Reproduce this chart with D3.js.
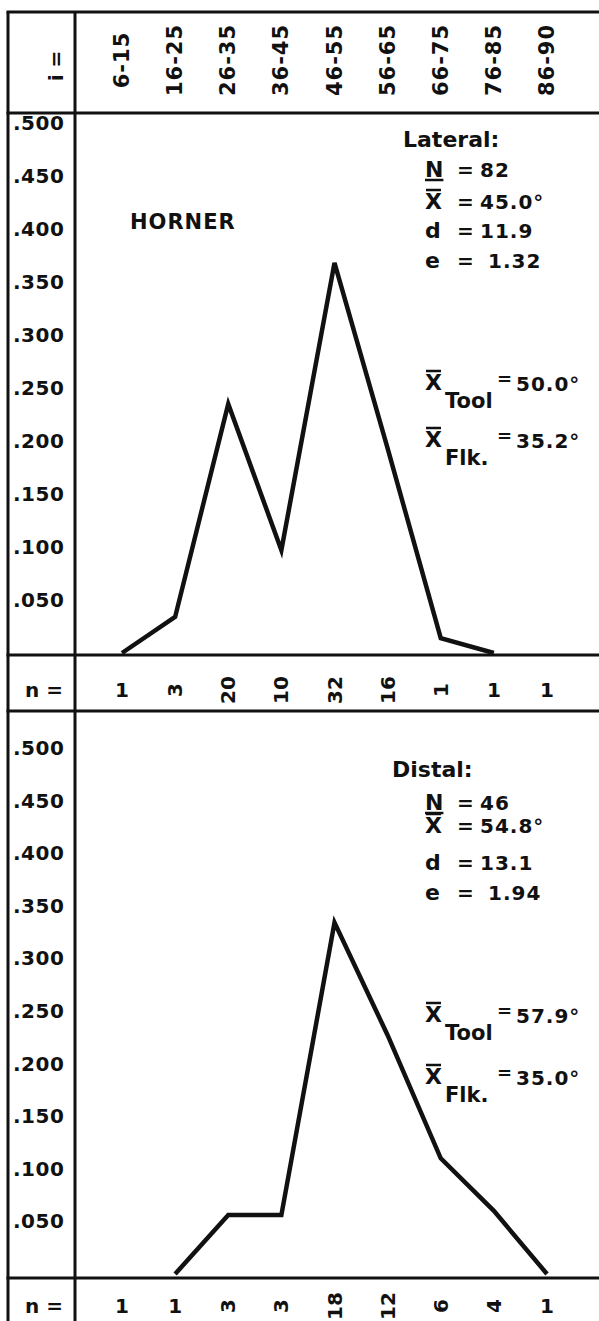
<!DOCTYPE html>
<html>
<head>
<meta charset="utf-8">
<script src="https://cdn.jsdelivr.net/npm/d3@7"></script>
<style>
  body { margin: 0; background: #fff; }
  text { font-family: "DejaVu Sans", sans-serif; font-weight: bold; fill: #111; white-space: pre; }
</style>
</head>
<body>
<script>
// Class intervals (degrees) along the top
const classes = ["6-15", "16-25", "26-35", "36-45", "46-55", "56-65", "66-75", "76-85", "86-90"];

// Relative frequency ticks
const yTicks = [0.05, 0.1, 0.15, 0.2, 0.25, 0.3, 0.35, 0.4, 0.45, 0.5];
const yTickLabels = [".050", ".100", ".150", ".200", ".250", ".300", ".350", ".400", ".450", ".500"];

// Lateral edge angles
const lateralN = ["1", "3", "20", "10", "32", "16", "1", "1", "1"];
const lateralFreq = [0, 0.034, 0.235, 0.097, 0.368, 0.193, 0.014, 0, null];
const lateralStatLabels = ["N", "X", "d", "e"];
const lateralStatValues = ["82", "45.0°", "11.9", " 1.32"];
const lateralMeanLabels = ["Tool", "Flk."];
const lateralMeanValues = ["50.0°", "35.2°"];

// Distal edge angles
const distalN = ["1", "1", "3", "3", "18", "12", "6", "4", "1"];
const distalFreq = [null, 0, 0.056, 0.056, 0.334, 0.227, 0.110, 0.060, 0];
const distalStatLabels = ["N", "X", "d", "e"];
const distalStatValues = ["46", "54.8°", "13.1", " 1.94"];
const distalMeanLabels = ["Tool", "Flk."];
const distalMeanValues = ["57.9°", "35.0°"];

let width = 599,
    height = 1321;

let frame = { left: 8, divider: 75, top: 12, header: 113 };

let svg = d3.select("body")
    .append("svg")
    .attr("width", width)
    .attr("height", height);

let xScale = d3.scalePoint()
    .domain(classes)
    .range([122, 547]);

// Frame lines
let frameG = svg.append("g")
    .attr("stroke", "#111")
    .attr("stroke-width", 3);

frameG.append("line")
    .attr("x1", frame.left).attr("x2", frame.left)
    .attr("y1", frame.top).attr("y2", height);
frameG.append("line")
    .attr("x1", frame.divider).attr("x2", frame.divider)
    .attr("y1", frame.top).attr("y2", height);
[frame.top, frame.header, 655, 711, 1278].forEach(y => {
    frameG.append("line")
        .attr("x1", frame.left - 1.5).attr("x2", width)
        .attr("y1", y).attr("y2", y);
});

// Header row: class intervals
svg.append("text")
    .attr("transform", "translate(56,66) rotate(-90)")
    .attr("text-anchor", "middle")
    .attr("dominant-baseline", "central")
    .style("font-size", "20px")
    .text("i =");

svg.selectAll(".cls")
    .data(classes)
    .enter().append("text")
    .attr("class", "cls")
    .attr("transform", d => `translate(${xScale(d)},60) rotate(-90)`)
    .attr("text-anchor", "middle")
    .attr("dominant-baseline", "central")
    .style("font-size", "21px")
    .style("letter-spacing", "1px")
    .text(d => d);

const panels = [
    {
        freq: lateralFreq, n: lateralN, upright: [0, 7, 8],
        statLabels: lateralStatLabels, statValues: lateralStatValues,
        meanLabels: lateralMeanLabels, meanValues: lateralMeanValues,
        title: "Lateral:", titleX: 403, titleY: 147,
        rowsY: [177, 209, 238, 268], meansY: [390, 447],
        yRange: [653, 123], nY: 690, name: "HORNER"
    },
    {
        freq: distalFreq, n: distalN, upright: [0, 1, 8],
        statLabels: distalStatLabels, statValues: distalStatValues,
        meanLabels: distalMeanLabels, meanValues: distalMeanValues,
        title: "Distal:", titleX: 392, titleY: 777,
        rowsY: [810, 833, 870, 900], meansY: [1022, 1084],
        yRange: [1274, 748], nY: 1306, name: null
    }
];

panels.forEach(p => {
    let yScale = d3.scaleLinear()
        .domain([0, 0.5])
        .range(p.yRange);

    // y axis labels, sitting inside the left column
    let yAxis = svg.append("g")
        .attr("transform", "translate(13,0)")
        .call(d3.axisRight(yScale)
            .tickValues(yTicks)
            .tickFormat((d, i) => yTickLabels[i])
            .tickSize(0)
            .tickPadding(0));
    yAxis.select(".domain").remove();
    yAxis.selectAll("text")
        .attr("fill", "#111")
        .style("font-size", "20px")
        .style("font-family", '"DejaVu Sans", sans-serif')
        .style("font-weight", "bold")
        .style("letter-spacing", "0.5px");

    // frequency polygon
    let line = d3.line()
        .defined(d => d.v != null)
        .x(d => xScale(d.c))
        .y(d => yScale(d.v));

    svg.append("path")
        .datum(classes.map((c, i) => ({ c: c, v: p.freq[i] })))
        .attr("d", line)
        .attr("fill", "none")
        .attr("stroke", "#111")
        .attr("stroke-width", 4.5)
        .attr("stroke-linejoin", "miter");

    // n row
    svg.append("text")
        .attr("x", 25)
        .attr("y", p.nY + 7)
        .style("font-size", "20px")
        .text("n =");

    svg.selectAll(null)
        .data(p.n)
        .enter().append("text")
        .attr("transform", (d, i) => `translate(${xScale(classes[i])},${p.nY})` +
            (p.upright.includes(i) ? "" : " rotate(-90)"))
        .attr("text-anchor", "middle")
        .attr("dominant-baseline", "central")
        .style("font-size", "20px")
        .text(d => d);

    // summary statistics
    svg.append("text")
        .attr("x", p.titleX)
        .attr("y", p.titleY)
        .style("font-size", "22px")
        .text(p.title);

    p.statLabels.forEach((lab, i) => {
        let t = svg.append("text")
            .attr("x", 425)
            .attr("y", p.rowsY[i])
            .style("font-size", "22px")
            .text(lab);
        let b = t.node().getBBox();
        if (lab === "N") {
            svg.append("line")
                .attr("x1", b.x).attr("x2", b.x + b.width)
                .attr("y1", p.rowsY[i] + 3).attr("y2", p.rowsY[i] + 3)
                .attr("stroke", "#111").attr("stroke-width", 2.5);
        }
        if (lab === "X") {
            svg.append("line")
                .attr("x1", b.x + 1).attr("x2", b.x + b.width - 1)
                .attr("y1", p.rowsY[i] - 19).attr("y2", p.rowsY[i] - 19)
                .attr("stroke", "#111").attr("stroke-width", 2.5);
        }
        svg.append("text")
            .attr("x", 457)
            .attr("y", p.rowsY[i])
            .style("font-size", "20px")
            .text("=");
        svg.append("text")
            .attr("x", 480)
            .attr("y", p.rowsY[i])
            .style("font-size", "20px")
            .style("letter-spacing", "1px")
            .text(p.statValues[i]);
    });

    // tool and flake means
    p.meanLabels.forEach((lab, i) => {
        let yb = p.meansY[i];
        let t = svg.append("text")
            .attr("x", 425)
            .attr("y", yb)
            .style("font-size", "22px")
            .text("X");
        let b = t.node().getBBox();
        svg.append("line")
            .attr("x1", b.x + 1).attr("x2", b.x + b.width - 1)
            .attr("y1", yb - 19).attr("y2", yb - 19)
            .attr("stroke", "#111").attr("stroke-width", 2.5);
        svg.append("text")
            .attr("x", 445)
            .attr("y", yb + 18)
            .style("font-size", "21px")
            .text(lab);
        svg.append("text")
            .attr("x", 497)
            .attr("y", yb - 5)
            .style("font-size", "18px")
            .text("=");
        svg.append("text")
            .attr("x", 516)
            .attr("y", yb + 1)
            .style("font-size", "20px")
            .style("letter-spacing", "1px")
            .text(p.meanValues[i]);
    });

    if (p.name) {
        svg.append("text")
            .attr("x", 130)
            .attr("y", 229)
            .style("font-size", "21px")
            .style("letter-spacing", "1px")
            .text(p.name);
    }
});
</script>
</body>
</html>
